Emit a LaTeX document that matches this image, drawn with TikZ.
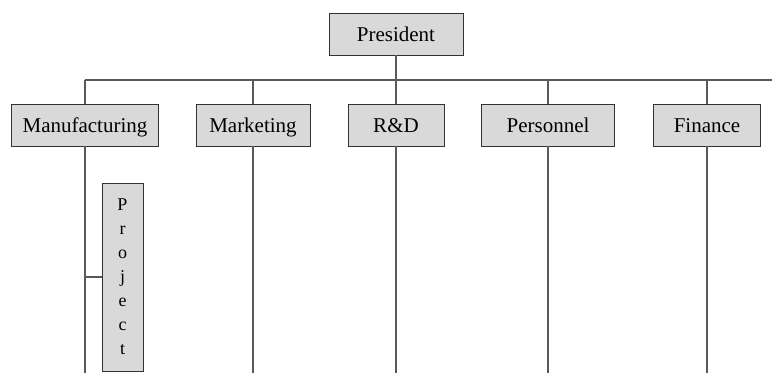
\documentclass[tikz,border=0pt]{standalone}
\usepackage{fontspec}
\setmainfont{Liberation Serif}
\begin{document}
\begin{tikzpicture}[x=1pt,y=-1pt,
  box/.style={draw=black!80, fill=black!15, line width=0.9pt, inner sep=0pt, minimum height=42pt, text height=16pt, text depth=2pt, font=\fontsize{21}{24}\selectfont},
  conn/.style={draw=black!65, line width=1.5pt}]
\useasboundingbox (0,0) rectangle (772,373);
\node[box, minimum width=134pt] (pres) at (396,34) {President};
\node[box, minimum width=147pt] (mfg) at (85,125) {Manufacturing};
\node[box, minimum width=114pt] (mkt) at (253,125) {Marketing};
\node[box, minimum width=96pt] (rd) at (396,125) {R\&D};
\node[box, minimum width=133pt] (per) at (548,125) {Personnel};
\node[box, minimum width=107pt] (fin) at (707,125) {Finance};
\node[box, minimum width=41pt, minimum height=188pt, text height=, text depth=, align=center, font=\fontsize{18}{24}\selectfont] (proj) at (122.5,277) {P\\r\\o\\j\\e\\c\\t};
\coordinate (hl) at (85,80);
\coordinate (hr) at (772,80);
\coordinate (bot) at (0,373);
\draw[conn] (pres.south) -- (pres.south |- hl);
\draw[conn] (hl) -- (hr);
\foreach \n in {mfg,mkt,rd,per,fin}{
  \draw[conn] (\n.north |- hl) -- (\n.north);
  \draw[conn] (\n.south) -- (\n.south |- bot);
}
\draw[conn] (proj.west -| mfg.south) -- (proj.west);
\end{tikzpicture}
\end{document}
